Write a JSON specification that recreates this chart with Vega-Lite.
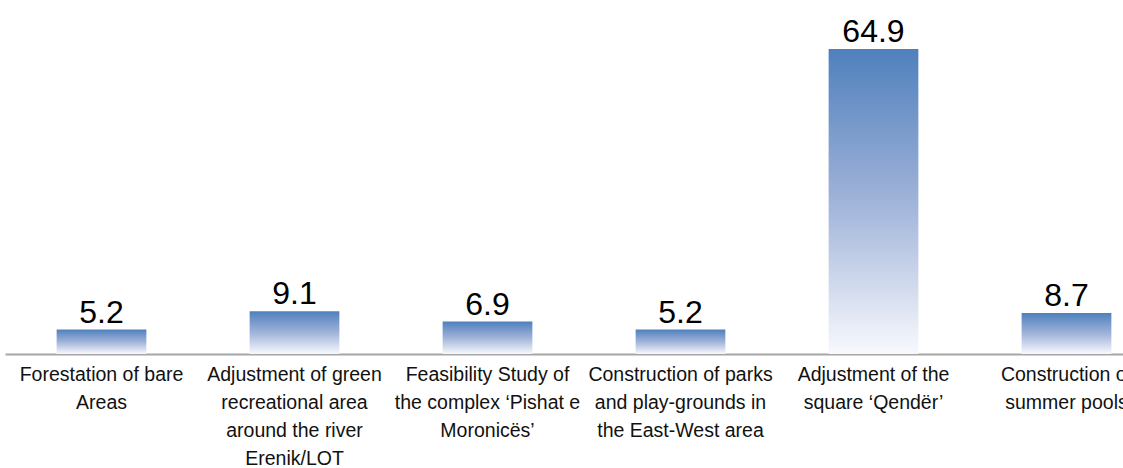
{
  "$schema": "https://vega.github.io/schema/vega-lite/v6.json",
  "width": 1158,
  "height": 329,
  "autosize": {"type": "none"},
  "padding": {"left": 5, "top": 25, "right": 0, "bottom": 114},
  "background": "white",
  "config": {"view": {"stroke": null}},
  "data": {
    "values": [
      {"cat": "Forestation of bare|Areas", "value": 5.2},
      {"cat": "Adjustment of green|recreational area|around the river|Erenik/LOT", "value": 9.1},
      {"cat": "Feasibility Study of|the complex ‘Pishat e|Moronicës’", "value": 6.9},
      {"cat": "Construction of parks|and play-grounds in|the East-West area", "value": 5.2},
      {"cat": "Adjustment of the|square ‘Qendër’", "value": 64.9},
      {"cat": "Construction of|summer pools", "value": 8.7}
    ]
  },
  "encoding": {
    "x": {
      "field": "cat",
      "type": "nominal",
      "sort": null,
      "scale": {"paddingInner": 0.535, "paddingOuter": 0.2675},
      "axis": {
        "title": null,
        "labelAngle": 0,
        "labelExpr": "split(datum.value, '|')",
        "labelFont": "Liberation Sans",
        "labelFontSize": 19.5,
        "labelLineHeight": 28,
        "labelColor": "#111111",
        "labelPadding": 11,
        "labelLimit": 400,
        "labelOverlap": false,
        "labelBound": false,
        "ticks": false,
        "domainColor": "#a6a6a6",
        "domainWidth": 2,
        "grid": false
      }
    },
    "y": {
      "field": "value",
      "type": "quantitative",
      "scale": {"domain": [0, 70], "nice": false},
      "axis": null
    }
  },
  "layer": [
    {
      "mark": {
        "type": "bar",
        "color": {
          "gradient": "linear",
          "x1": 0, "y1": 0, "x2": 0, "y2": 1,
          "stops": [
            {"offset": 0, "color": "#4f80bd"},
            {"offset": 0.5, "color": "#a0b3d9"},
            {"offset": 1, "color": "#f8f9fd"}
          ]
        }
      }
    },
    {
      "mark": {
        "type": "text",
        "baseline": "alphabetic",
        "dy": -7,
        "font": "Liberation Sans",
        "fontSize": 32,
        "color": "#000000"
      },
      "encoding": {
        "text": {"field": "value", "type": "quantitative", "format": ".1f"}
      }
    }
  ]
}
